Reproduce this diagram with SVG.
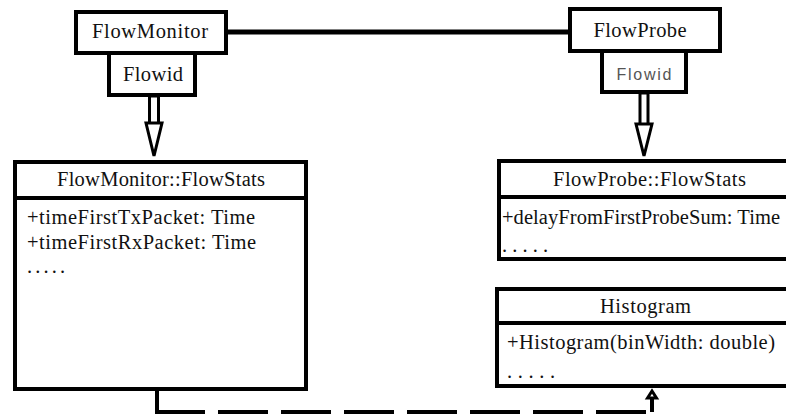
<svg xmlns="http://www.w3.org/2000/svg" width="786" height="415" viewBox="0 0 786 415">
<style>
.box{fill:#fff;stroke:#000;stroke-width:4}
.div{stroke:#000;stroke-width:4}
.t{font-family:"Liberation Serif","Times New Roman",serif;font-size:20.5px;fill:#111}
.c{text-anchor:middle}
.g{font-family:"Liberation Sans",Arial,sans-serif;font-size:16px;fill:#555;text-anchor:middle}
.hol{fill:#fff;stroke:#000;stroke-width:3;stroke-linejoin:miter}
</style>
<rect width="786" height="415" fill="#fff"/>
<g id="connectors">
<line x1="228" y1="32" x2="569" y2="32" stroke="#000" stroke-width="5" stroke-linecap="round"/>
<rect class="hol" x="149.5" y="96" width="9" height="28"/>
<polygon class="hol" points="146,123 162,123 154,156"/>
<rect class="hol" x="640" y="93" width="8" height="32"/>
<polygon class="hol" points="636,124 652,124 644,156"/>
<polyline points="157,390 157,412 205,412" fill="none" stroke="#000" stroke-width="4"/>
<line x1="218" y1="412" x2="652" y2="412" stroke="#000" stroke-width="4" stroke-dasharray="50 13"/>
<line x1="652" y1="412" x2="652" y2="398" stroke="#000" stroke-width="4"/>
<polygon class="hol" points="647.5,398 652,391 656.5,398"/>
</g>
<g id="flowmonitor">
<rect class="box" x="76" y="12" width="150" height="41"/>
<text class="t c" x="150" y="38" textLength="116">FlowMonitor</text>
</g>
<g id="flowmonitor-flowid">
<rect class="box" x="109" y="53" width="86" height="42"/>
<text class="t c" x="153" y="81" textLength="60">Flowid</text>
</g>
<g id="flowprobe">
<rect class="box" x="570" y="9" width="150" height="42"/>
<text class="t c" x="640" y="37" textLength="93">FlowProbe</text>
</g>
<g id="flowprobe-flowid">
<rect class="box" x="602" y="51" width="84" height="41"/>
<text class="g" x="644" y="80" textLength="55">Flowid</text>
</g>
<g id="flowmonitor-flowstats">
<rect class="box" x="15" y="162" width="291" height="227"/>
<line class="div" x1="15" y1="198" x2="306" y2="198"/>
<text class="t c" x="161" y="186" textLength="208">FlowMonitor::FlowStats</text>
<text class="t" x="27" y="224" textLength="228">+timeFirstTxPacket: Time</text>
<text class="t" x="27" y="249" textLength="229">+timeFirstRxPacket: Time</text>
<text class="t" x="27" y="273" textLength="38">. . . . .</text>
</g>
<g id="flowprobe-flowstats">
<rect class="box" x="499" y="161" width="300" height="98"/>
<line class="div" x1="499" y1="197" x2="799" y2="197"/>
<text class="t" x="553" y="186" textLength="193">FlowProbe::FlowStats</text>
<text class="t" x="502" y="224" textLength="278">+delayFromFirstProbeSum: Time</text>
<text class="t" x="502" y="252" textLength="46">. . . . .</text>
</g>
<g id="histogram">
<rect class="box" x="497" y="289" width="300" height="97"/>
<line class="div" x1="497" y1="323" x2="797" y2="323"/>
<text class="t" x="600" y="313" textLength="91">Histogram</text>
<text class="t" x="507" y="349" textLength="268">+Histogram(binWidth: double)</text>
<text class="t" x="507" y="378" textLength="48">. . . . .</text>
</g>
</svg>
